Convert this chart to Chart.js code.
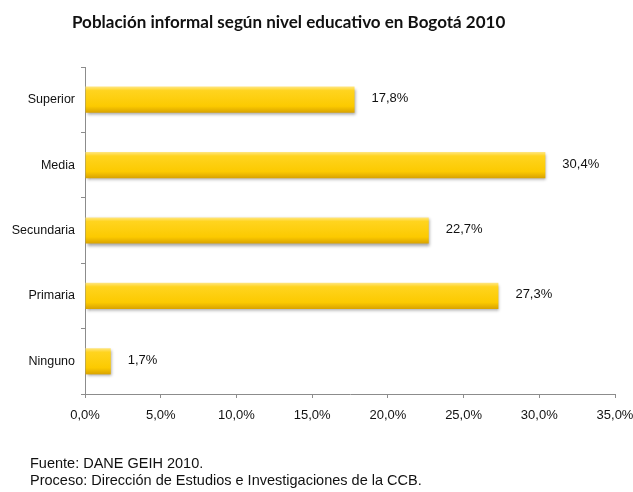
<!DOCTYPE html>
<html>
<head>
<meta charset="utf-8">
<script src="https://cdn.jsdelivr.net/npm/chart.js@4.4.1/dist/chart.umd.min.js"></script>
<style>
  html, body { margin: 0; padding: 0; background: #fff; }
  #wrap { position: relative; width: 633px; height: 492px; }
  #chart { position: absolute; left: 0; top: 0; }
  .title { position: absolute; left: 72px; top: 13px; font: bold 17px/1 Lato, "Liberation Sans", sans-serif; color: #111; white-space: nowrap; }
  .source { position: absolute; left: 30px; font: 14.5px/1 "Liberation Sans", Arial, sans-serif; color: #111; white-space: nowrap; }
</style>
</head>
<body>
<div id="wrap">
  <canvas id="chart" width="633" height="492"></canvas>
  <div class="title">Población informal según nivel educativo en Bogotá 2010</div>
  <div class="source" style="top:456px">Fuente: DANE GEIH 2010.</div>
  <div class="source" style="top:473px">Proceso: Dirección de Estudios e Investigaciones de la CCB.</div>
</div>
<script>
// data
const levels = ['Superior', 'Media', 'Secundaria', 'Primaria', 'Ninguno'];
const shares = [17.8, 30.4, 22.7, 27.3, 1.7];
const xTicks = [0, 5, 10, 15, 20, 25, 30, 35];

function pct(v) {
  return v.toFixed(1).replace('.', ',') + '%';
}

// yellow bar with a lighter top and darker bottom edge
function barFill(c) {
  const yScale = c.chart.scales.y;
  if (!yScale || !c.chart.ctx) return '#FFCC00';
  const cy = yScale.getPixelForValue(c.dataIndex);
  if (!isFinite(cy)) return '#FFCC00';
  const half = 13;
  const g = c.chart.ctx.createLinearGradient(0, cy - half, 0, cy + half);
  g.addColorStop(0, '#FFE680');
  g.addColorStop(0.15, '#FFD41F');
  g.addColorStop(0.75, '#FCCA00');
  g.addColorStop(1, '#D9A300');
  return g;
}

const barShadow = {
  id: 'barShadow',
  beforeDatasetsDraw(chart) {
    const ctx = chart.ctx;
    ctx.save();
    ctx.shadowColor = 'rgba(0,0,0,0.35)';
    ctx.shadowBlur = 3;
    ctx.shadowOffsetX = 1;
    ctx.shadowOffsetY = 2;
  },
  afterDatasetsDraw(chart) {
    chart.ctx.restore();
  }
};

const valueLabels = {
  id: 'valueLabels',
  afterDraw(chart) {
    const ctx = chart.ctx;
    const meta = chart.getDatasetMeta(0);
    ctx.save();
    ctx.font = '13px "Liberation Sans", Arial, sans-serif';
    ctx.fillStyle = '#111';
    ctx.textAlign = 'left';
    ctx.textBaseline = 'middle';
    meta.data.forEach((bar, i) => {
      ctx.fillText(pct(shares[i]), bar.x + 17, bar.y - 1);
    });
    ctx.restore();
  }
};

new Chart(document.getElementById('chart'), {
  type: 'bar',
  data: {
    labels: levels,
    datasets: [{
      data: shares,
      backgroundColor: barFill,
      borderWidth: 0,
      barPercentage: 0.8,
      categoryPercentage: 0.5
    }]
  },
  plugins: [barShadow, valueLabels],
  options: {
    indexAxis: 'y',
    responsive: false,
    animation: false,
    layout: { padding: { top: 67, left: 0, right: 18, bottom: 68 } },
    plugins: {
      legend: { display: false },
      title: { display: false },
      tooltip: { enabled: false }
    },
    scales: {
      x: {
        min: 0,
        max: 35,
        afterFit: s => { s.height = 30; s.paddingLeft = 0; s.paddingRight = 0; },
        afterBuildTicks: s => { s.ticks = xTicks.map(v => ({ value: v })); },
        ticks: {
          callback: v => pct(v),
          font: { family: '"Liberation Sans", Arial, sans-serif', size: 13 },
          color: '#111',
          padding: 10,
          maxRotation: 0
        },
        grid: { drawOnChartArea: false, tickLength: 4, color: '#8c8c8c' },
        border: { color: '#8c8c8c', width: 1 }
      },
      y: {
        afterFit: s => { s.width = 85; },
        ticks: {
          font: { family: '"Liberation Sans", Arial, sans-serif', size: 12.5 },
          color: '#111',
          padding: 6
        },
        grid: { drawOnChartArea: false, tickLength: 4, color: '#8c8c8c', offset: true },
        border: { color: '#8c8c8c', width: 1 }
      }
    }
  }
});
</script>
</body>
</html>
